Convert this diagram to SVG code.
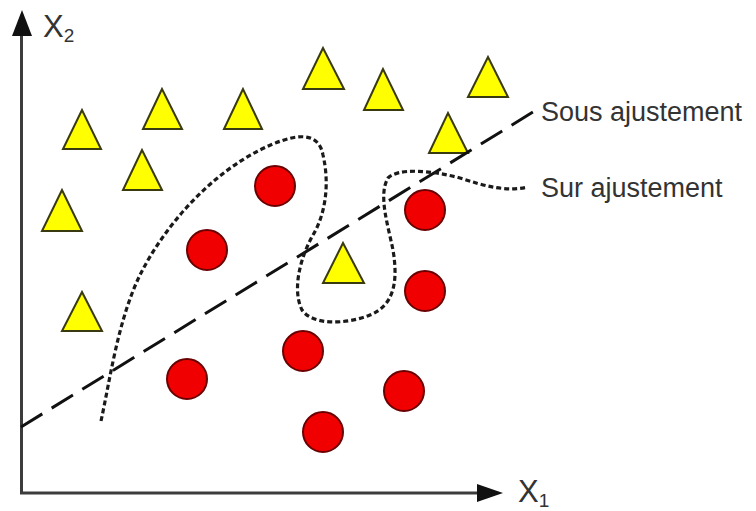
<svg xmlns="http://www.w3.org/2000/svg" width="756" height="511" viewBox="0 0 756 511">
<style>
.tri{fill:#ffff00;stroke:#3a3a10;stroke-width:2;stroke-linejoin:miter}
.dot{fill:#f00000;stroke:#6a0000;stroke-width:2}
.axis{stroke:#3c3c3c;stroke-width:3;fill:none}
.head{fill:#111}
.lbl{font-family:"Liberation Sans",Arial,sans-serif;fill:#333;font-size:27px}
.ax{font-family:"Liberation Sans",Arial,sans-serif;fill:#333;font-size:31px}
.sub{font-size:19px}
</style>
<rect width="756" height="511" fill="#fff"/>
<g id="axes">
<line class="axis" x1="21.5" y1="494" x2="21.5" y2="34"/>
<polygon class="head" points="22,10 12,36 32,36"/>
<line class="axis" x1="20" y1="493" x2="480" y2="493"/>
<polygon class="head" points="503,493 477,484 477,502"/>
<text class="ax" x="43" y="37">X<tspan class="sub" dy="5">2</tspan></text>
<text class="ax" x="518" y="502">X<tspan class="sub" dy="5">1</tspan></text>
</g>
<g id="triangles">
<polygon class="tri" points="82,110 63,149 101,149"/>
<polygon class="tri" points="162,89 143,129 182,129"/>
<polygon class="tri" points="142,150 123,190 162,190"/>
<polygon class="tri" points="243,89 224,129 262,129"/>
<polygon class="tri" points="323,48 303,89 344,89"/>
<polygon class="tri" points="383,69 364,110 403,110"/>
<polygon class="tri" points="488,57 468,97 508,97"/>
<polygon class="tri" points="448,113 429,153 468,153"/>
<polygon class="tri" points="62,190 42,231 82,231"/>
<polygon class="tri" points="82,292 62,331 102,331"/>
<polygon class="tri" points="343,243 323,283 364,283"/>
</g>
<g id="circles">
<circle class="dot" cx="275" cy="186" r="20"/>
<circle class="dot" cx="207" cy="250" r="20"/>
<circle class="dot" cx="425" cy="210" r="20"/>
<circle class="dot" cx="425" cy="291" r="20"/>
<circle class="dot" cx="303" cy="351" r="20"/>
<circle class="dot" cx="187" cy="379" r="20"/>
<circle class="dot" cx="404" cy="391" r="20"/>
<circle class="dot" cx="323" cy="432" r="20"/>
</g>
<g id="connectors">
<line x1="21" y1="427" x2="533" y2="112" stroke="#111" stroke-width="3" stroke-dasharray="25 11"/>
<path d="M101,421 C110,380 118,320 140,275 C165,225 210,175 260,150 C290,135 318,128 323,155 C330,185 325,215 313,235 C300,258 292,290 302,310 C312,325 345,325 370,315 C395,305 398,280 393,250 C388,225 378,195 388,178 C398,168 430,170 460,178 C485,186 505,192 528,187" fill="none" stroke="#1a1a1a" stroke-width="3.2" stroke-dasharray="5 3"/>
</g>
<g id="labels">
<text class="lbl" x="541" y="121">Sous ajustement</text>
<text class="lbl" x="541" y="197">Sur ajustement</text>
</g>
</svg>
